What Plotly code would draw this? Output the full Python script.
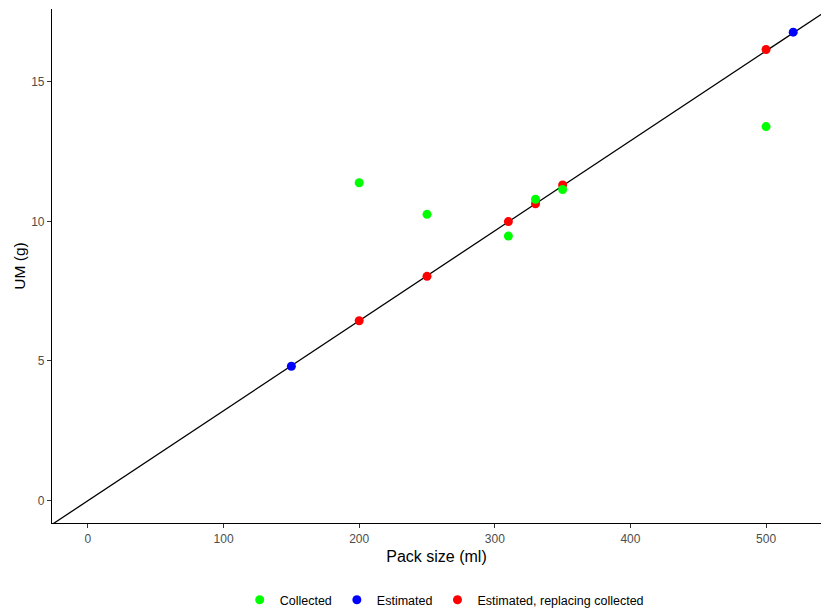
import plotly.graph_objects as go

# Data
collected_x = [200, 250, 310, 330, 350, 500]
collected_y = [11.38, 10.25, 9.47, 10.79, 11.14, 13.39]

estimated_x = [150, 520]
estimated_y = [4.81, 16.77]

replacing_x = [200, 250, 310, 330, 350, 500]
replacing_y = [6.44, 8.03, 9.99, 10.63, 11.30, 16.15]

line_slope = 0.0322  # fitted line through origin

x_range = [-26.5, 540.5]
y_range = [-0.8, 17.6]

fig = go.Figure()

line_x = [x_range[0] - 20, x_range[1] + 20]
fig.add_trace(go.Scatter(x=line_x, y=[line_slope * v for v in line_x], mode="lines",
                         line=dict(color="black", width=1.3), showlegend=False,
                         hoverinfo="skip"))

fig.add_trace(go.Scatter(x=replacing_x, y=replacing_y, mode="markers",
                         name="Estimated, replacing collected",
                         marker=dict(color="#FF0000", size=9)))
fig.add_trace(go.Scatter(x=collected_x, y=collected_y, mode="markers",
                         name="Collected",
                         marker=dict(color="#00FF00", size=9)))
fig.add_trace(go.Scatter(x=estimated_x, y=estimated_y, mode="markers",
                         name="Estimated",
                         marker=dict(color="#0000FF", size=9)))

axis_common = dict(showgrid=False, zeroline=False, showline=True, linecolor="black",
                   linewidth=1.2, ticks="outside", ticklen=4, tickcolor="#333333",
                   automargin=False,
                   tickfont=dict(family="Liberation Sans, Arial, sans-serif", size=12,
                                 color="#4D4D4D"))

fig.update_layout(
    width=821, height=613,
    paper_bgcolor="white", plot_bgcolor="white",
    margin=dict(l=52, r=0, t=9, b=90, autoexpand=False),
    font=dict(family="Liberation Sans, Arial, sans-serif", color="black"),
    xaxis=dict(range=x_range, tickvals=[0, 100, 200, 300, 400, 500],
               title=dict(text="Pack size (ml)", font=dict(size=16), standoff=6),
               **axis_common),
    yaxis=dict(range=y_range, tickvals=[0, 5, 10, 15],
               title=dict(text="UM (g)", font=dict(size=15.5), standoff=1),
               **axis_common),
    legend=dict(orientation="h", x=0.51, xanchor="center", y=-0.15, yanchor="middle",
                font=dict(size=12.5), traceorder="normal", itemwidth=30),
)

# legend order: Collected, Estimated, Estimated replacing
fig.data[1].legendrank = 3
fig.data[2].legendrank = 1
fig.data[3].legendrank = 2

fig.write_html("out.html", config={"displayModeBar": False},
               post_script="document.body.style.margin='0';document.body.style.overflow='hidden';")
